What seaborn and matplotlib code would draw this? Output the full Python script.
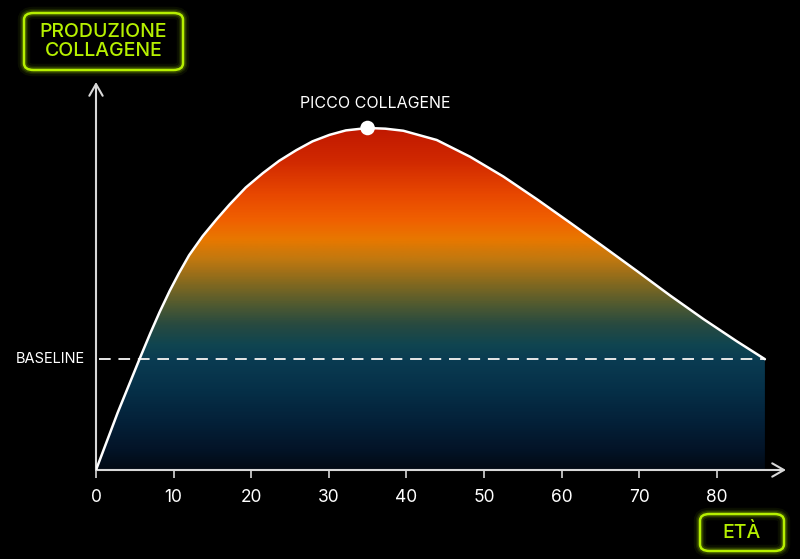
import numpy as np
import pandas as pd
import seaborn as sns
import matplotlib.pyplot as plt
from matplotlib.colors import LinearSegmentedColormap
from matplotlib.patches import FancyBboxPatch

# Curve: age (years) vs collagen production (peak = 100)
age = [0, 2.8, 5.6, 7.0, 8.2, 9.5, 10.7, 12.0, 13.75, 15.5, 17.2, 19.3, 21.5, 23.6,
       25.8, 27.9, 30.1, 32.2, 35.0, 37.3, 39.6, 43.9, 48.2, 52.5, 56.8, 61.1,
       65.4, 69.7, 74.0, 78.3, 82.6, 86.2]
production = [0, 16.8, 32.4, 40.0, 46.2, 52.4, 57.6, 62.8, 68.4, 73.2, 77.6, 82.6, 86.8,
              90.4, 93.5, 96.1, 98.0, 99.3, 100, 99.8, 99.2, 96.5, 91.6, 85.8, 79.2,
              72.3, 65.3, 58.2, 51.0, 44.1, 37.6, 32.4]
baseline = 32.4
x_ticks = [0, 10, 20, 30, 40, 50, 60, 70, 80]

df = pd.DataFrame({'age': age, 'production': production})
peak = df.loc[df['production'].idxmax()]

lime = '#b6f000'

sns.set_theme(style='dark')
plt.rcParams['font.family'] = ['Inter', 'DejaVu Sans']

fig = plt.figure(figsize=(8, 5.59), dpi=100, facecolor='black')
ax = fig.add_axes([96 / 800, 1 - 470 / 559, 690 / 800, 388 / 559])
ax.set_facecolor('black')
ax.set_xlim(0, 690 / 7.76)
ax.set_ylim(0, 388 / 3.42)

# Gradient fill clipped to the area under the curve
stops = [(0.0, '#020a14'), (5.8, '#031428'), (14.6, '#04223a'), (23.4, '#063048'),
         (32.2, '#0a3c52'), (36.5, '#104550'), (42.4, '#284a40'), (48.2, '#505a30'),
         (54.1, '#806820'), (61.4, '#c07810'), (67.3, '#e87800'), (73.1, '#f06000'),
         (80.4, '#e84800'), (90.6, '#d02800'), (100.0, '#c01800')]
cmap = LinearSegmentedColormap.from_list('collagen', [(v / 100, c) for v, c in stops])
fill = ax.fill_between(df['age'], df['production'], 0, color='none', lw=0)
grad = np.linspace(0, 1, 400).reshape(-1, 1)
img = ax.imshow(grad, cmap=cmap, aspect='auto', origin='lower',
                extent=(0, df['age'].max(), 0, df['production'].max()), zorder=1)
img.set_clip_path(fill.get_paths()[0], transform=ax.transData)

# Baseline
ax.plot([0.4, df['age'].iloc[-1]], [baseline, baseline], color='#e8e8e8',
        lw=1.4, ls=(0, (6, 4)), zorder=3)
ax.text(-1.4, baseline, 'BASELINE', color='white', fontsize=10.5,
        ha='right', va='center')

# Curve and peak
sns.lineplot(data=df, x='age', y='production', color='white', lw=1.8, ax=ax, zorder=4)
sns.scatterplot(x=[peak['age']], y=[peak['production']], color='white', s=110,
                edgecolor='none', ax=ax, zorder=5)
ax.text(peak['age'] + 1, peak['production'] + 5, 'PICCO COLLAGENE', color='white',
        fontsize=11.5, ha='center', va='bottom')

# Axes with arrows
for s in ['top', 'right', 'left', 'bottom']:
    ax.spines[s].set_visible(False)
ax.annotate('', xy=(1, 0), xytext=(0, 0), xycoords='axes fraction',
            arrowprops=dict(arrowstyle='->,head_length=0.7,head_width=0.4',
                            color='#d8d8d8', lw=1.5, shrinkA=0, shrinkB=0))
ax.annotate('', xy=(0, 1), xytext=(0, 0), xycoords='axes fraction',
            arrowprops=dict(arrowstyle='->,head_length=0.7,head_width=0.4',
                            color='#d8d8d8', lw=1.5, shrinkA=0, shrinkB=0))
ax.set_xticks(x_ticks)
ax.set_xticklabels([str(t) for t in x_ticks])
ax.set_yticks([])
ax.tick_params(axis='x', bottom=True, direction='out', length=6, width=1.2,
               color='#d8d8d8', labelcolor='white', labelsize=12.5, pad=8)
ax.set_xlabel('')
ax.set_ylabel('')
ax.grid(False)


def glow_box(x0, y0, w, h, lines, fs):
    # pixel coords from the top-left corner of the picture
    fx, fy = x0 / 800, 1 - (y0 + h) / 559
    fw, fh = w / 800, h / 559
    for lw, a in [(9, 0.06), (6, 0.1), (4, 0.18)]:
        fig.patches.append(FancyBboxPatch((fx, fy), fw, fh, transform=fig.transFigure,
                                          boxstyle='round,pad=0,rounding_size=0.012',
                                          fc='none', ec=lime, lw=lw, alpha=a))
    fig.patches.append(FancyBboxPatch((fx, fy), fw, fh, transform=fig.transFigure,
                                      boxstyle='round,pad=0,rounding_size=0.012',
                                      fc='none', ec=lime, lw=1.8))
    fig.text(fx + fw / 2, fy + fh / 2, lines, color=lime, fontsize=fs,
             fontweight='medium', ha='center', va='center', linespacing=1.05)


glow_box(24, 13, 159, 57, 'PRODUZIONE\nCOLLAGENE', 14)
glow_box(700, 514, 84, 37, 'ETÀ', 14)

fig.savefig('out.png', dpi=100, facecolor='black')
